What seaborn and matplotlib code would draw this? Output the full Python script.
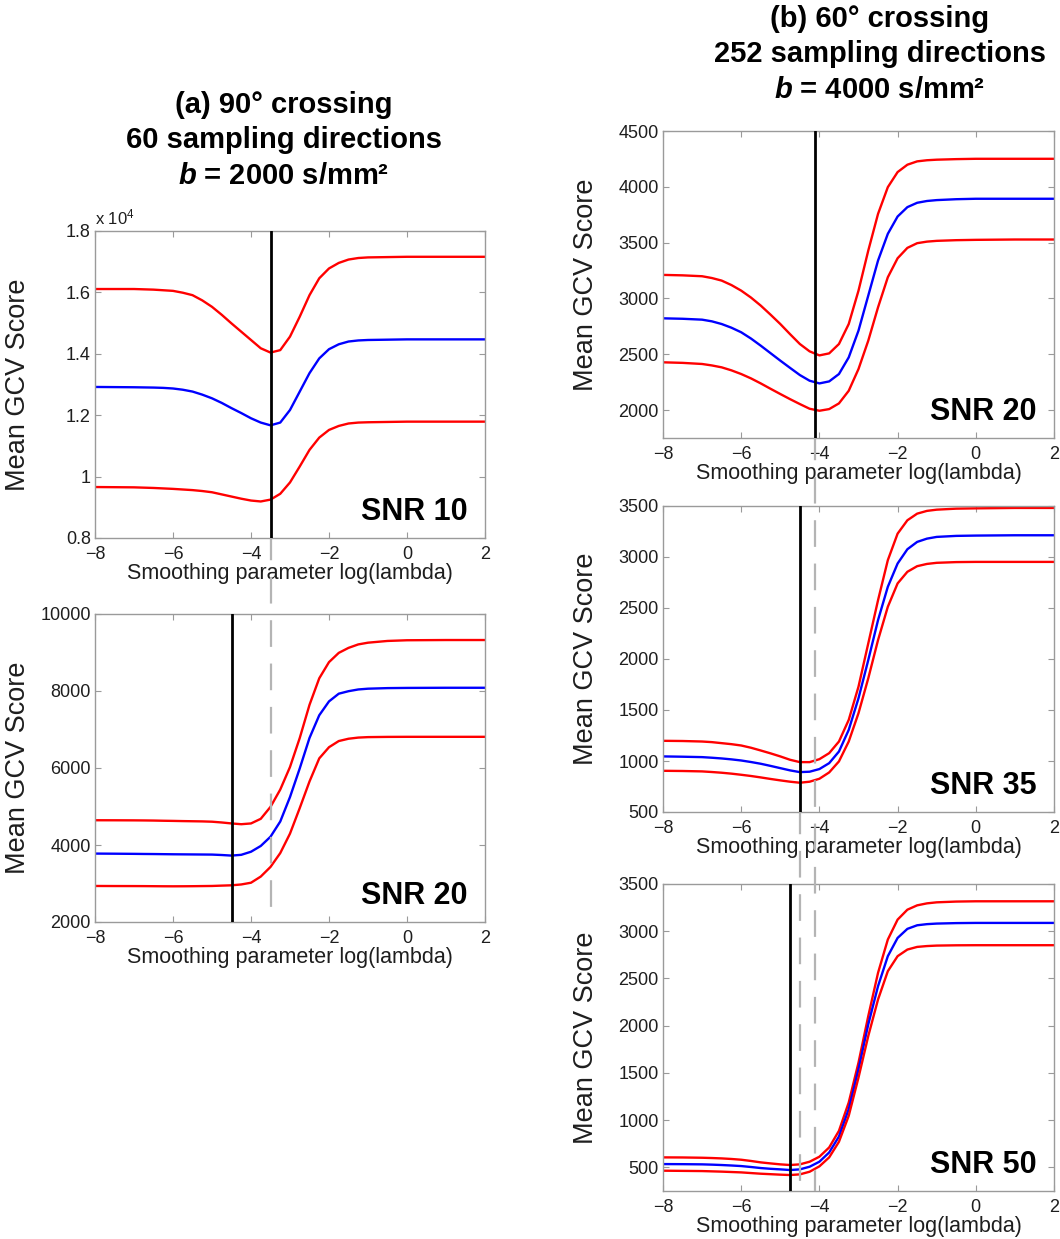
import matplotlib
matplotlib.use("Agg")
import matplotlib.pyplot as plt
import matplotlib.transforms as mtransforms
from matplotlib.lines import Line2D
from matplotlib.ticker import FuncFormatter
import pandas as pd
import seaborn as sns

# ---------------------------------------------------------------- data
log_lambda = [-8, -7.5, -7, -6.75, -6.5, -6.25, -6, -5.75, -5.5, -5.25, -5, -4.75,
              -4.5, -4.25, -4, -3.75, -3.5, -3.25, -3, -2.75, -2.5, -2.25, -2,
              -1.75, -1.5, -1.25, -1, -0.5, 0, 1, 2]

# (a) 90 deg crossing, 60 directions, b = 2000
a_snr10_upper = [16110, 16110, 16110, 16100, 16090, 16070, 16050, 15990, 15910, 15740,
                 15530, 15270, 14990, 14720, 14450, 14180, 14040, 14120, 14560, 15210,
                 15910, 16460, 16780, 16960, 17070, 17120, 17140, 17150, 17160, 17160, 17160]
a_snr10_mean = [12920, 12915, 12910, 12905, 12900, 12890, 12870, 12830, 12770, 12670,
                12550, 12400, 12230, 12070, 11900, 11760, 11670, 11760, 12170, 12770,
                13370, 13850, 14150, 14310, 14400, 14435, 14450, 14460, 14470, 14470, 14470]
a_snr10_lower = [9660, 9655, 9650, 9640, 9630, 9615, 9600, 9580, 9560, 9530,
                 9490, 9420, 9350, 9280, 9220, 9190, 9250, 9440, 9810, 10330,
                 10870, 11270, 11520, 11650, 11730, 11760, 11770, 11780, 11790, 11790, 11790]

a_snr20_upper = [4643, 4642, 4640, 4638, 4635, 4630, 4626, 4621, 4617, 4613,
                 4605, 4585, 4560, 4540, 4560, 4680, 4990, 5440, 6026, 6780,
                 7640, 8330, 8750, 8990, 9120, 9210, 9255, 9300, 9318, 9324, 9324]
a_snr20_mean = [3777, 3774, 3770, 3767, 3765, 3762, 3759, 3757, 3755, 3753,
                3751, 3740, 3725, 3745, 3825, 3975, 4215, 4610, 5246, 5990,
                6780, 7370, 7730, 7930, 7995, 8040, 8060, 8075, 8080, 8084, 8084]
a_snr20_lower = [2936, 2934, 2933, 2932, 2930, 2928, 2927, 2928, 2930, 2933,
                 2936, 2945, 2953, 2975, 3020, 3180, 3430, 3790, 4296, 4960,
                 5650, 6250, 6540, 6700, 6760, 6790, 6802, 6808, 6810, 6810, 6810]

# (b) 60 deg crossing, 252 directions, b = 4000
b_snr20_upper = [3211, 3207, 3199, 3183, 3160, 3120, 3070, 3008, 2936, 2855,
                 2771, 2680, 2592, 2526, 2490, 2508, 2592, 2771, 3070, 3429,
                 3758, 3997, 4132, 4198, 4228, 4238, 4243, 4248, 4251, 4251, 4251]
b_snr20_mean = [2822, 2818, 2810, 2795, 2771, 2738, 2697, 2641, 2577, 2510,
                2443, 2378, 2314, 2263, 2239, 2257, 2323, 2472, 2712, 3026,
                3340, 3579, 3734, 3818, 3857, 3873, 3881, 3889, 3893, 3893, 3893]
b_snr20_lower = [2428, 2423, 2413, 2400, 2383, 2356, 2323, 2284, 2239, 2191,
                 2144, 2098, 2054, 2012, 1994, 2009, 2060, 2173, 2368, 2622,
                 2921, 3190, 3360, 3453, 3495, 3509, 3516, 3522, 3525, 3528, 3528]

b_snr35_upper = [1198, 1196, 1191, 1185, 1175, 1165, 1152, 1130, 1103, 1075,
                 1045, 1012, 989, 989, 1018, 1077, 1191, 1403, 1729, 2153,
                 2577, 2969, 3229, 3360, 3425, 3452, 3464, 3474, 3477, 3481, 3481]
b_snr35_mean = [1045, 1042, 1038, 1032, 1025, 1016, 1005, 990, 973, 952,
                930, 908, 891, 895, 921, 979, 1093, 1305, 1615, 1990,
                2382, 2708, 2936, 3076, 3148, 3180, 3197, 3207, 3210, 3213, 3213]
b_snr35_lower = [904, 902, 898, 892, 885, 876, 865, 853, 839, 824,
                 810, 797, 787, 797, 826, 888, 996, 1191, 1469, 1811,
                 2186, 2512, 2741, 2855, 2910, 2932, 2943, 2950, 2952, 2952, 2952]

b_snr50_upper = [606, 605, 602, 599, 595, 589, 581, 568, 553, 542,
                 532, 525, 532, 560, 613, 711, 887, 1187, 1609, 2102,
                 2560, 2912, 3123, 3228, 3274, 3295, 3306, 3314, 3317, 3317, 3317]
b_snr50_mean = [535, 534, 532, 529, 525, 520, 514, 504, 493, 485,
                479, 472, 479, 507, 560, 658, 827, 1116, 1539, 2014,
                2419, 2736, 2929, 3025, 3063, 3075, 3081, 3086, 3088, 3088, 3088]
b_snr50_lower = [465, 463, 461, 458, 455, 451, 447, 440, 433, 428,
                 423, 419, 426, 454, 511, 606, 771, 1046, 1451, 1891,
                 2278, 2577, 2736, 2806, 2834, 2843, 2848, 2851, 2852, 2852, 2852]

# optimal log(lambda) (minimum of the mean GCV curve)
opt_a_snr10 = -3.5
opt_a_snr20 = -4.5
opt_b_snr20 = -4.1
opt_b_snr35 = -4.5
opt_b_snr50 = -4.75

snr_labels = ["SNR 10", "SNR 20", "SNR 20", "SNR 35", "SNR 50"]
x_ticks = [-8, -6, -4, -2, 0, 2]

# ---------------------------------------------------------------- style
sns.set_theme(style="white")
plt.rcParams["font.family"] = ["Liberation Sans", "DejaVu Sans"]
plt.rcParams["mathtext.fontset"] = "custom"
plt.rcParams["mathtext.it"] = "Liberation Sans:italic:bold"
plt.rcParams["mathtext.rm"] = "Liberation Sans"

W, H = 1060, 1239
fig = plt.figure(figsize=(W / 100, H / 100), dpi=100)
fig.patch.set_facecolor("white")


def px_axes(left, top, right, bottom):
    return fig.add_axes([left / W, 1 - bottom / H, (right - left) / W, (bottom - top) / H])


FRAME = "#9a9a9a"
TEXT = "#1e1e1e"
palette = {"upper": "#ff0000", "mean": "#0000ff", "lower": "#ff0000"}


def draw_panel(ax, upper, mean, lower, opt, ylim, yticks, snr, scale=None):
    n = len(log_lambda)
    df = pd.DataFrame({
        "log_lambda": log_lambda * 3,
        "score": list(upper) + list(mean) + list(lower),
        "curve": ["upper"] * n + ["mean"] * n + ["lower"] * n,
    })
    sns.lineplot(data=df, x="log_lambda", y="score", hue="curve", palette=palette,
                 estimator=None, legend=False, linewidth=1.7, ax=ax)
    for ln in ax.lines:
        ln.set_solid_joinstyle("round")
    ax.axvline(opt, color="black", linewidth=2.0, zorder=3)
    ax.set_xlim(-8, 2)
    ax.set_ylim(*ylim)
    ax.set_xticks(x_ticks)
    ax.set_yticks(yticks)
    if scale:
        ax.yaxis.set_major_formatter(FuncFormatter(lambda v, p: f"{v / scale:g}"))
    ax.tick_params(direction="in", length=4, width=0.8, color=FRAME,
                   top=True, right=True, bottom=True, left=True,
                   labelsize=13, labelcolor=TEXT)
    ax.tick_params(axis="x", pad=6)
    ax.tick_params(axis="y", pad=3)
    for s in ax.spines.values():
        s.set_color(FRAME)
        s.set_linewidth(1.0)
    ax.set_xlabel("Smoothing parameter log(lambda)", fontsize=15.5, color=TEXT, labelpad=0)
    ax.set_ylabel("Mean GCV Score", fontsize=19.5, color=TEXT)
    ax.yaxis.set_label_coords(-0.163, 0.5)
    ax.text(0.955, 0.085, snr, transform=ax.transAxes, ha="right", va="center",
            fontsize=22, fontweight="bold", color="black")


ax_a10 = px_axes(95, 231, 485, 538)
ax_a20 = px_axes(95, 614, 485, 922)
ax_b20 = px_axes(663, 131, 1054, 438)
ax_b35 = px_axes(663, 506, 1054, 812)
ax_b50 = px_axes(663, 884, 1054, 1191)

draw_panel(ax_a10, a_snr10_upper, a_snr10_mean, a_snr10_lower, opt_a_snr10,
           (8000, 18000), [8000, 10000, 12000, 14000, 16000, 18000], snr_labels[0], scale=1e4)
ax_a10.text(0.0, 1.012, r"x $\mathregular{10^{4}}$", transform=ax_a10.transAxes,
            ha="left", va="bottom", fontsize=12, color=TEXT)
draw_panel(ax_a20, a_snr20_upper, a_snr20_mean, a_snr20_lower, opt_a_snr20,
           (2000, 10000), [2000, 4000, 6000, 8000, 10000], snr_labels[1])
draw_panel(ax_b20, b_snr20_upper, b_snr20_mean, b_snr20_lower, opt_b_snr20,
           (1750, 4500), [2000, 2500, 3000, 3500, 4000, 4500], snr_labels[2])
draw_panel(ax_b35, b_snr35_upper, b_snr35_mean, b_snr35_lower, opt_b_snr35,
           (500, 3500), [500, 1000, 1500, 2000, 2500, 3000, 3500], snr_labels[3])
draw_panel(ax_b50, b_snr50_upper, b_snr50_mean, b_snr50_lower, opt_b_snr50,
           (250, 3500), [500, 1000, 1500, 2000, 2500, 3000, 3500], snr_labels[4])

# grey dashed guides carrying each optimum down into the panels below
guides = [(ax_a10, ax_a20, opt_a_snr10),
          (ax_b20, ax_b50, opt_b_snr20),
          (ax_b35, ax_b50, opt_b_snr35)]
for ax_from, ax_to, xv in guides:
    y0 = ax_from.get_position().y0
    y1 = ax_to.get_position().y0
    tr = mtransforms.blended_transform_factory(ax_to.transData, fig.transFigure)
    fig.add_artist(Line2D([xv, xv], [y0, y1], transform=tr, color="#b4b4b4",
                          linewidth=1.6, linestyle=(2, (12, 7.5)), zorder=5))

# column headings
heading = dict(ha="center", va="baseline", fontsize=21, fontweight="bold", color="black")
fig.text(284 / W, 1 - 113 / H, "(a) 90° crossing", **heading)
fig.text(284 / W, 1 - 148 / H, "60 sampling directions", **heading)
fig.text(284 / W, 1 - 184 / H, r"$b$ = 2000 s/mm²", **heading)
fig.text(880 / W, 1 - 27 / H, "(b) 60° crossing", **heading)
fig.text(880 / W, 1 - 62 / H, "252 sampling directions", **heading)
fig.text(880 / W, 1 - 98 / H, r"$b$ = 4000 s/mm²", **heading)

fig.savefig("out.png", dpi=100, facecolor="white")
